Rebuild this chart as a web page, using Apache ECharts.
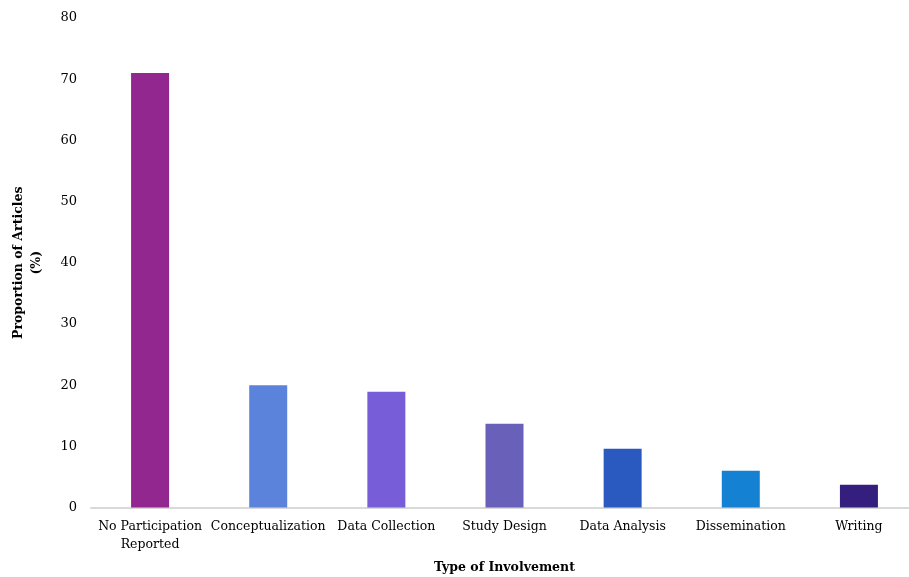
<!DOCTYPE html>
<html><head><meta charset="utf-8">
<script src="https://cdn.jsdelivr.net/npm/echarts@6/dist/echarts.min.js"></script>
<style>html,body{margin:0;padding:0;background:#fff}#c{width:909px;height:577px}</style>
</head><body><div id="c"></div>
<script>
const categories = ['No Participation\nReported','Conceptualization','Data Collection','Study Design','Data Analysis','Dissemination','Writing'];
const values = [71.0, 20.0, 18.9, 13.7, 9.6, 6.0, 3.7];
const barColors = ['#92278f','#5b83db','#775dd8','#6961b9','#2a59c0','#1481d3','#341f7f'];
const yTicks = [0,10,20,30,40,50,60,70,80];
const FONT = 'DejaVu Serif';
const chart = echarts.init(document.getElementById('c'));
chart.setOption({
  animation:false,
  grid:{left:91,right:-9,top:18,bottom:69.5,containLabel:false,outerBoundsMode:'none'},
  xAxis:{type:'category',data:categories,
    axisLine:{lineStyle:{color:'#d9d9d9',width:2}},axisTick:{show:false},
    axisLabel:{color:'#000',fontFamily:FONT,fontSize:12.5,margin:10,lineHeight:18,interval:0},
    name:'Type of Involvement',nameLocation:'middle',nameGap:54,
    nameTextStyle:{color:'#000',fontFamily:FONT,fontSize:12.5,fontWeight:'bold'}},
  yAxis:{type:'value',min:yTicks[0],max:yTicks[yTicks.length-1],interval:10,
    axisLine:{show:false},axisTick:{show:false},splitLine:{show:false},
    axisLabel:{color:'#000',fontFamily:FONT,fontSize:13,margin:14},
    name:'Proportion of Articles\n(%)',nameLocation:'middle',nameGap:45,nameRotate:90,
    nameTextStyle:{color:'#000',fontFamily:FONT,fontSize:12.5,fontWeight:'bold',lineHeight:18}},
  series:[{type:'bar',barWidth:38,
    data:values.map((v,i)=>({value:v,itemStyle:{color:barColors[i]}}))}]
});
</script></body></html>
